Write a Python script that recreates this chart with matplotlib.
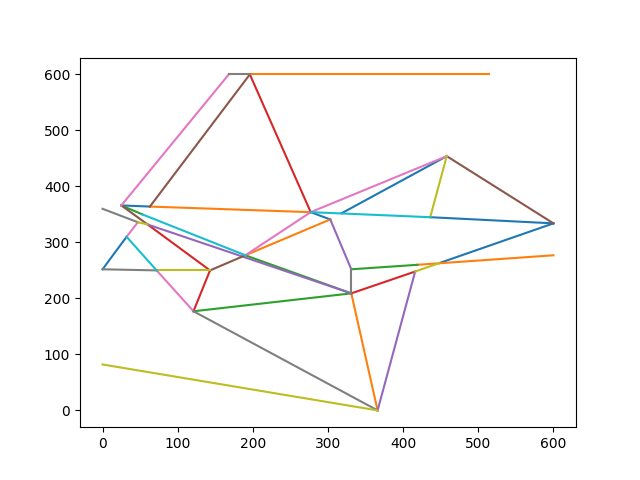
import matplotlib
matplotlib.use("Agg")
import matplotlib.pyplot as plt

# node positions (x, y)
nodes = {
    "A": (0, 252), "B": (32, 310), "C": (25, 366), "D": (63, 364),
    "E": (0, 360), "F": (143, 250), "G": (121, 177), "H": (168, 600),
    "I": (196, 600), "J": (514, 600), "K": (277, 354), "L": (303, 341),
    "M": (331, 252), "N": (331, 209), "O": (366, 0), "P": (416, 248),
    "Q": (458, 454), "R": (436, 345), "S": (600, 334), "T": (600, 277),
    "U": (0, 82), "V": (190, 277), "W": (318, 352), "X": (72, 250),
    "Y1": (47, 336), "Y2": (60, 332), "Z1": (53, 350), "Z3": (419, 260),
    "Z4": (448, 263),
}

# one list of edges per series of the colour cycle
series_0 = [("C", "D"), ("A", "B"), ("K", "L"), ("W", "Q"), ("R", "S"), ("Z4", "S")]
series_1 = [("I", "J"), ("D", "K"), ("V", "L"), ("N", "O"), ("Z3", "T")]
series_2 = [("C", "Z1"), ("V", "N"), ("G", "N"), ("M", "Z3")]
series_3 = [("I", "K"), ("Y2", "F"), ("F", "G"), ("N", "P")]
series_4 = [("Y2", "N"), ("L", "M"), ("P", "O")]
series_5 = [("D", "I"), ("C", "Y2"), ("Q", "S"), ("F", "V")]
series_6 = [("C", "H"), ("B", "Y1"), ("X", "G"), ("V", "K"), ("K", "Q")]
series_7 = [("H", "I"), ("E", "Y1"), ("A", "X"), ("M", "N"), ("G", "O")]
series_8 = [("Y1", "Y2"), ("X", "F"), ("R", "Q"), ("U", "O"), ("P", "Z4")]
series_9 = [("Z1", "V"), ("B", "X"), ("K", "R")]

all_series = [series_0, series_1, series_2, series_3, series_4,
              series_5, series_6, series_7, series_8, series_9]


if __name__ == "__main__":

    fig, ax = plt.subplots(figsize=(6.4, 4.8), dpi=100)

    for i, edges in enumerate(all_series):
        for a, b in edges:
            xa, ya = nodes[a]
            xb, yb = nodes[b]
            ax.plot([xa, xb], [ya, yb], color="C%d" % i)

    fig.savefig("out.png")
